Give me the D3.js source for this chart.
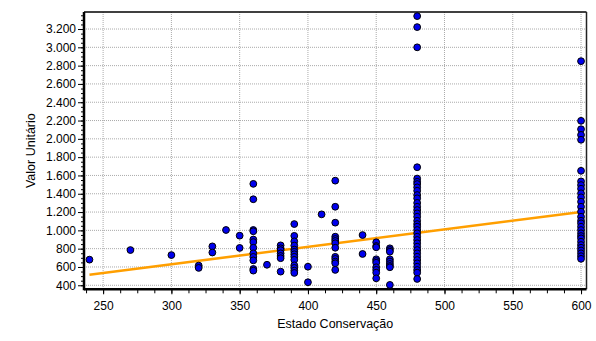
<!DOCTYPE html>
<html>
<head>
<meta charset="utf-8">
<script src="https://cdn.jsdelivr.net/npm/d3@7"></script>
<style>
	body { margin: 0; background: #fff; }
	svg { display: block; font-family: "Liberation Sans", Arial, sans-serif; }
</style>
</head>
<body>
<svg id="chart"></svg>
<script>
// values, grouped by "Estado Conservação"
const col240 = [680];
const col270 = [785];
const col300 = [730];
const col320 = [615, 590];
const col330 = [825, 758];
const col340 = [1004];
const col350 = [942, 808];
const col360 = [1508, 1340, 1004, 990, 900, 872, 810, 749, 710, 672, 578, 560];
const col370 = [624];
const col380 = [836, 804, 784, 749, 720, 696, 549];
const col390 = [1069, 940, 880, 834, 790, 766, 739, 711, 678, 618, 590, 560, 535];
const col400 = [603, 433];
const col410 = [1175];
const col420 = [1543, 1258, 1084, 931, 906, 884, 859, 810, 711, 688, 659, 640, 568];
const col440 = [949, 742];
const col450 = [870, 829, 815, 684, 665, 646, 597, 568, 538, 476];
const col460 = [804, 785, 767, 684, 659, 633, 611, 597, 404];
const col480 = [3341, 3221, 3000, 1690, 1566, 1531, 1506, 1470, 1433, 1386, 1350, 1300, 1258, 1222,
	1186, 1149, 1105, 1069, 1040, 1004, 968, 931, 895, 859, 822, 785, 749, 712, 676, 640, 603, 567, 538, 469];
const col600 = [2849, 2197, 2105, 2043, 1990, 1651, 1535, 1495, 1455, 1405, 1361, 1313, 1258, 1204,
	1149, 1105, 1077, 1040, 1004, 968, 938, 913, 876, 840, 810, 780, 749, 718, 689];

const groups = [
	[240, col240], [270, col270], [300, col300], [320, col320], [330, col330], [340, col340],
	[350, col350], [360, col360], [370, col370], [380, col380], [390, col390], [400, col400],
	[410, col410], [420, col420], [440, col440], [450, col450], [460, col460], [480, col480],
	[600, col600]
];

// fitted trend line, read at its two ends
const trendX = [240, 600];
const trendY = [516, 1200];

const xTicks = [250, 300, 350, 400, 450, 500, 550, 600];
const yTicks = [400, 600, 800, 1000, 1200, 1400, 1600, 1800, 2000, 2200, 2400, 2600, 2800, 3000, 3200];

const width = 596;
const height = 341;
const margin = ({top: 12, right: 9.5, bottom: 51.7, left: 84});

const points = [];
groups.forEach(g => g[1].forEach(v => points.push({x: g[0], y: v})));

const svg = d3.select("#chart")
	.attr("width", width)
	.attr("height", height);

const x = d3.scaleLinear()
	.domain([236, 604])
	.range([margin.left, width - margin.right]);
const y = d3.scaleLinear()
	.domain([356, 3386])
	.range([height - margin.bottom, margin.top]);

const fmt = d => d3.format(",")(d).replace(/,/g, ".");

// grid
svg.append("g")
	.selectAll("line")
	.data(xTicks)
	.join("line")
	.attr("x1", d => x(d)).attr("x2", d => x(d))
	.attr("y1", margin.top).attr("y2", height - margin.bottom)
	.attr("stroke", "#aaa")
	.attr("stroke-dasharray", "1,1");
svg.append("g")
	.selectAll("line")
	.data(yTicks)
	.join("line")
	.attr("x1", margin.left).attr("x2", width - margin.right)
	.attr("y1", d => y(d)).attr("y2", d => y(d))
	.attr("stroke", "#aaa")
	.attr("stroke-dasharray", "1,1");

// minor ticks
svg.append("g")
	.attr("transform", `translate(0,${height - margin.bottom})`)
	.call(d3.axisBottom(x).tickValues(d3.range(237.5, 604, 12.5)).tickSize(4).tickFormat(""))
	.call(g => g.select(".domain").remove());
svg.append("g")
	.attr("transform", `translate(${margin.left},0)`)
	.call(d3.axisLeft(y).tickValues(d3.range(400, 3386, 50)).tickSize(3).tickFormat(""))
	.call(g => g.select(".domain").remove());

// major axes
const xAxis = g => g
	.attr("transform", `translate(0,${height - margin.bottom})`)
	.call(d3.axisBottom(x).tickValues(xTicks).tickSize(5).tickPadding(7))
	.call(g => g.select(".domain").remove());
const yAxis = g => g
	.attr("transform", `translate(${margin.left},0)`)
	.call(d3.axisLeft(y).tickValues(yTicks).tickSize(6).tickPadding(2).tickFormat(fmt))
	.call(g => g.select(".domain").remove());

svg.append("g").call(xAxis);
svg.append("g").call(yAxis);
svg.selectAll(".tick text")
	.attr("font-size", 12)
	.attr("font-family", "Liberation Sans, Arial, sans-serif")
	.attr("fill", "#000");

// frame
svg.append("line")
	.attr("x1", margin.left).attr("x2", width - margin.right)
	.attr("y1", margin.top).attr("y2", margin.top)
	.attr("stroke", "#000").attr("stroke-width", 1.5);
svg.append("line")
	.attr("x1", width - margin.right).attr("x2", width - margin.right)
	.attr("y1", margin.top).attr("y2", height - margin.bottom)
	.attr("stroke", "#222").attr("stroke-width", 1.5);
svg.append("line")
	.attr("x1", margin.left).attr("x2", margin.left)
	.attr("y1", margin.top).attr("y2", height - margin.bottom + 1)
	.attr("stroke", "#000").attr("stroke-width", 2.5);
svg.append("line")
	.attr("x1", margin.left).attr("x2", width - margin.right)
	.attr("y1", height - margin.bottom).attr("y2", height - margin.bottom)
	.attr("stroke", "#000").attr("stroke-width", 2.5);

// trend
const line = d3.line()
	.x(d => x(d[0]))
	.y(d => y(d[1]));
svg.append("path")
	.datum(d3.zip(trendX, trendY))
	.attr("fill", "none")
	.attr("stroke", "#ff9f00")
	.attr("stroke-width", 2.5)
	.attr("d", line);

// points
svg.append("g")
	.selectAll("circle")
	.data(points)
	.join("circle")
	.attr("cx", d => x(d.x))
	.attr("cy", d => y(d.y))
	.attr("r", 3.4)
	.attr("fill", "#0000ee")
	.attr("stroke", "#000")
	.attr("stroke-width", 1);

// titles
svg.append("text")
	.attr("x", (margin.left + width - margin.right) / 2)
	.attr("y", 327.5)
	.attr("text-anchor", "middle")
	.attr("font-size", 12.5)
	.text("Estado Conservação");
svg.append("text")
	.attr("transform", `translate(35,${(margin.top + height - margin.bottom) / 2}) rotate(-90)`)
	.attr("text-anchor", "middle")
	.attr("font-size", 12.5)
	.text("Valor Unitário");
</script>
</body>
</html>
